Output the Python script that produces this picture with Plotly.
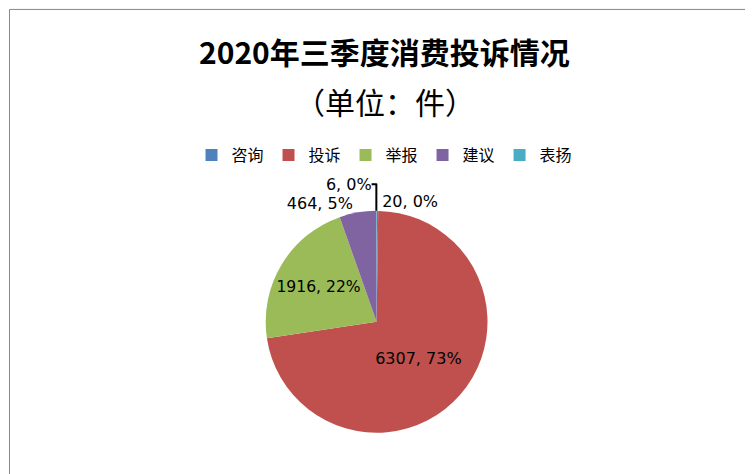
import plotly.graph_objects as go

categories = ["咨询", "投诉", "举报", "建议", "表扬"]
values = [20, 6307, 1916, 464, 6]
pct_labels = ["0%", "73%", "22%", "5%", "0%"]
colors = ["#4F81BD", "#C0504D", "#9BBB59", "#8064A2", "#4BACC6"]

texts = [f"{v}, {p}" for v, p in zip(values, pct_labels)]

fig = go.Figure(go.Pie(
    labels=categories, values=values, text=texts, textinfo="text",
    textposition=["outside", "inside", "inside", "outside", "outside"],
    insidetextorientation="horizontal",
    marker=dict(colors=colors, line=dict(width=0)),
    sort=False, direction="clockwise", rotation=0,
    textfont=dict(size=16, color="black", family="DejaVu Sans"),
    outsidetextfont=dict(size=16, color="black"),
    domain=dict(x=[0.342, 0.637], y=[0.104, 0.572]),
    showlegend=True,
))
fig.update_layout(
    width=753, height=474,
    margin=dict(l=0, r=0, t=0, b=0),
    paper_bgcolor="white",
    font=dict(family="Noto Sans CJK SC, DejaVu Sans", color="black"),
    annotations=[
        dict(text="<b>2020年三季度消费投诉情况</b>", x=0.5, y=1 - 43 / 474, xref="paper", yref="paper",
             showarrow=False, xanchor="center", yanchor="middle", font=dict(size=30)),
        dict(text="（单位：件）", x=0.5, y=1 - 93 / 474, xref="paper", yref="paper",
             showarrow=False, xanchor="center", yanchor="middle", font=dict(size=30)),
    ],
    legend=dict(orientation="h", x=0.5, xanchor="center", y=1 - 147 / 474, yanchor="middle",
                font=dict(size=16), traceorder="normal"),
    shapes=[dict(type="rect", xref="paper", yref="paper", x0=0.002, y0=0.003,
                 x1=0.998, y1=0.997, line=dict(color="#888888", width=1))],
)
fig.write_html("out.html")
